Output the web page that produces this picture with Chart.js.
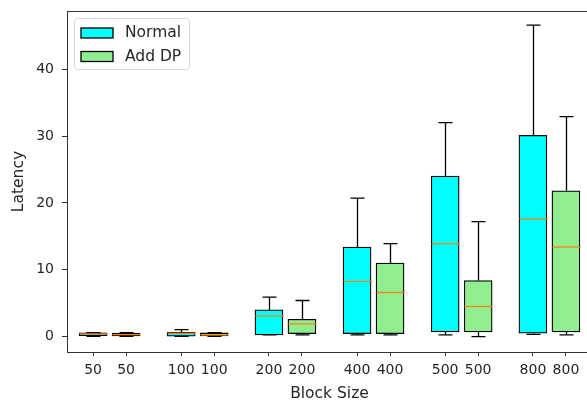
<!DOCTYPE html>
<html>
<head>
<meta charset="utf-8">
<script src="https://cdn.jsdelivr.net/npm/chart.js@4"></script>
<style>
  html, body { margin: 0; padding: 0; background: #fff; overflow: hidden; }
  #wrap { width: 600px; height: 403px; }
</style>
</head>
<body>
<div id="wrap"><canvas id="chartLatency"></canvas></div>
<script>
const blockSizes = ['50', '50', '100', '100', '200', '200', '400', '400', '500', '500', '800', '800']
const tickPositions = [1, 2, 3.67, 4.67, 6.33, 7.33, 9, 10, 11.67, 12.67, 14.33, 15.33]

const normalPos = [1, 3.67, 6.33, 9, 11.67, 14.33]
const normalMin = [0.05, 0.05, 0.25, 0.25, 0.25, 0.35]
const normalQ1 = [0.15, 0.05, 0.25, 0.45, 0.7, 0.5]
const normalMed = [0.4, 0.5, 3.1, 8.25, 13.9, 17.6]
const normalQ3 = [0.55, 0.65, 4.0, 13.4, 24.0, 30.1]
const normalMax = [0.6, 1.05, 5.9, 20.7, 32.0, 46.6]

const dpPos = [2, 4.67, 7.33, 10, 12.67, 15.33]
const dpMin = [0.05, 0.05, 0.25, 0.25, 0.0, 0.25]
const dpQ1 = [0.1, 0.1, 0.45, 0.45, 0.7, 0.7]
const dpMed = [0.3, 0.25, 1.9, 6.6, 4.5, 13.4]
const dpQ3 = [0.5, 0.55, 2.6, 11.0, 8.4, 21.8]
const dpMax = [0.6, 0.6, 5.4, 13.9, 17.2, 32.9]

const yTicks = [0, 10, 20, 30, 40]

const seriesNames = ['Normal', 'Add DP']
const seriesColors = ['#00ffff', '#90ee90']

const boxStats = [
  {pos: normalPos, min: normalMin, med: normalMed, q1: normalQ1, q3: normalQ3, max: normalMax},
  {pos: dpPos, min: dpMin, med: dpMed, q1: dpQ1, q3: dpQ3, max: dpMax}
]

// whiskers, caps, medians, axes frame and the legend
const boxExtras = {
  id: 'boxExtras',
  afterDatasetsDraw(chart) {
    const ctx = chart.ctx
    const x = chart.scales.x
    const y = chart.scales.y
    const capHalf = 7
    const boxHalf = 14
    ctx.save()
    for (const s of boxStats) {
      for (let i = 0; i < s.pos.length; i++) {
        const px = Math.round(x.getPixelForValue(s.pos[i])) + 0.5
        const yMax = y.getPixelForValue(s.max[i])
        const yMin = y.getPixelForValue(s.min[i])
        ctx.strokeStyle = '#000'
        ctx.lineWidth = 1.3
        ctx.beginPath()
        ctx.moveTo(px, y.getPixelForValue(s.q3[i]))
        ctx.lineTo(px, yMax)
        ctx.moveTo(px - capHalf, yMax)
        ctx.lineTo(px + capHalf, yMax)
        ctx.moveTo(px, y.getPixelForValue(s.q1[i]))
        ctx.lineTo(px, yMin)
        ctx.moveTo(px - capHalf, yMin)
        ctx.lineTo(px + capHalf, yMin)
        ctx.stroke()
        ctx.strokeStyle = '#ff7f0e'
        ctx.beginPath()
        ctx.moveTo(px - boxHalf, y.getPixelForValue(s.med[i]))
        ctx.lineTo(px + boxHalf, y.getPixelForValue(s.med[i]))
        ctx.stroke()
      }
    }
    const a = chart.chartArea
    ctx.strokeStyle = '#333'
    ctx.lineWidth = 1
    ctx.strokeRect(Math.round(a.left) + 0.5, Math.round(a.top) + 0.5, Math.round(a.right - a.left), Math.round(a.bottom - a.top))

    // legend, inside the upper left corner
    const lx = a.left + 7
    const ly = a.top + 7
    ctx.fillStyle = 'rgba(255,255,255,0.8)'
    ctx.strokeStyle = '#d5d5d5'
    ctx.beginPath()
    ctx.roundRect(lx + 0.5, ly + 0.5, 115, 51, 3)
    ctx.fill()
    ctx.stroke()
    ctx.font = '15.5px "DejaVu Sans"'
    ctx.textBaseline = 'middle'
    for (let i = 0; i < seriesNames.length; i++) {
      const ry = ly + 10 + i * 23.5
      ctx.fillStyle = seriesColors[i]
      ctx.fillRect(lx + 7, ry, 32, 10)
      ctx.strokeStyle = '#000'
      ctx.lineWidth = 1.3
      ctx.strokeRect(lx + 7, ry, 32, 10)
      ctx.fillStyle = '#262626'
      ctx.fillText(seriesNames[i], lx + 51, ry + 5)
    }
    ctx.restore()
  }
}

new Chart(document.getElementById('chartLatency'), {
  type: 'bar',
  data: {
    datasets: [
      {
        label: seriesNames[0],
        data: normalPos.map((p, i) => ({x: p, y: [normalQ1[i], normalQ3[i]]})),
        backgroundColor: seriesColors[0],
        borderColor: '#000',
        borderWidth: 1.3,
        borderSkipped: false,
        barThickness: 28,
        grouped: false
      },
      {
        label: seriesNames[1],
        data: dpPos.map((p, i) => ({x: p, y: [dpQ1[i], dpQ3[i]]})),
        backgroundColor: seriesColors[1],
        borderColor: '#000',
        borderWidth: 1.3,
        borderSkipped: false,
        barThickness: 28,
        grouped: false
      }
    ]
  },
  options: {
    responsive: true,
    maintainAspectRatio: false,
    animation: false,
    layout: {padding: {left: 0, top: 11, right: 8, bottom: 0}},
    plugins: {
      legend: {display: false},
      tooltip: {enabled: false}
    },
    scales: {
      x: {
        type: 'linear',
        offset: false,
        min: 0.21,
        max: 16.12,
        afterBuildTicks: (scale) => { scale.ticks = tickPositions.map(v => ({value: v})) },
        afterFit: (scale) => { scale.height = 51; scale.paddingLeft = 0; scale.paddingRight = 0 },
        ticks: {
          autoSkip: false,
          maxRotation: 0,
          padding: 6,
          color: '#262626',
          font: {family: 'DejaVu Sans', size: 14},
          callback: (v, i) => blockSizes[i]
        },
        grid: {offset: false, drawOnChartArea: false, drawTicks: true, tickLength: 4, color: '#333'},
        border: {display: false},
        title: {display: true, text: 'Block Size', color: '#262626', font: {family: 'DejaVu Sans', size: 15.5}, padding: {top: 3, bottom: 0}}
      },
      y: {
        min: -2.3,
        max: 48.7,
        afterBuildTicks: (scale) => { scale.ticks = yTicks.map(v => ({value: v})) },
        afterFit: (scale) => { scale.width = 67; scale.paddingTop = 0; scale.paddingBottom = 0 },
        ticks: {
          padding: 8,
          color: '#262626',
          font: {family: 'DejaVu Sans', size: 14}
        },
        grid: {drawOnChartArea: false, drawTicks: true, tickLength: 5, color: '#333'},
        border: {display: false},
        title: {display: true, text: 'Latency', color: '#262626', font: {family: 'DejaVu Sans', size: 15.5}, padding: {top: 10, bottom: 0}}
      }
    }
  },
  plugins: [boxExtras]
});
</script>
</body>
</html>
